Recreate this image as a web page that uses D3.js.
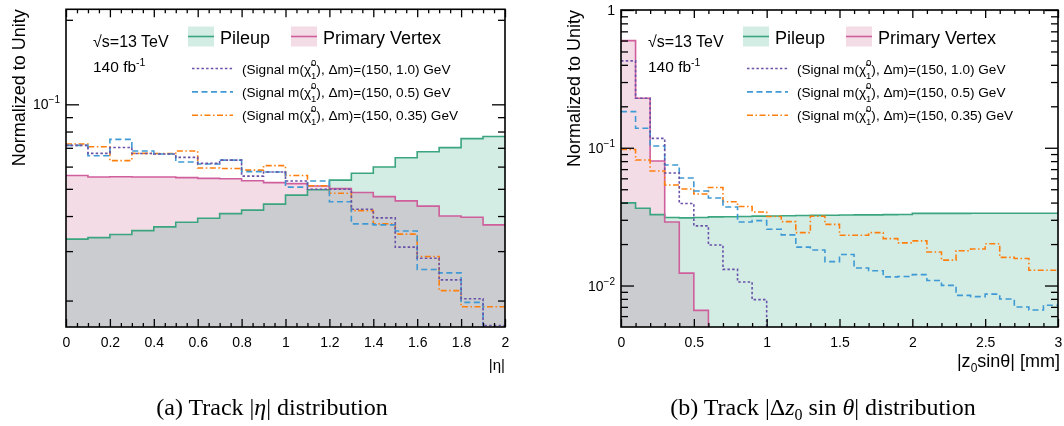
<!DOCTYPE html>
<html>
<head>
<meta charset="utf-8">
<script src="https://cdn.jsdelivr.net/npm/d3@7"></script>
<style>
  body { margin: 0; background: #fff; }
  svg text { font-family: "Liberation Sans", Arial, Helvetica, sans-serif; fill: #000; }
  .serif { font-family: "Liberation Serif", "Times New Roman", serif !important; }
  .mult { mix-blend-mode: multiply; }
</style>
</head>
<body>
<svg id="chart" width="1064" height="426"></svg>
<script>
// ---- Panel (a): track |eta| (bin edges, 0.1 wide) ----
const etaEdges = [0, 0.1, 0.2, 0.3, 0.4, 0.5, 0.6, 0.7, 0.8, 0.9, 1.0,
                  1.1, 1.2, 1.3, 1.4, 1.5, 1.6, 1.7, 1.8, 1.9, 2.0];
const etaPileup = [0.0331, 0.0335, 0.0344, 0.0355, 0.0366, 0.0380, 0.0393, 0.0408, 0.0420, 0.0441,
                   0.0475, 0.0496, 0.0537, 0.0568, 0.0598, 0.0645, 0.0678, 0.0701, 0.0755, 0.0768];
const etaPV     = [0.0558, 0.0551, 0.0552, 0.0551, 0.0551, 0.0548, 0.0545, 0.0543, 0.0534, 0.0526,
                   0.0522, 0.0512, 0.0501, 0.0485, 0.0469, 0.0453, 0.0434, 0.0400, 0.0396, 0.0372];
const etaSig10  = [0.0714, 0.0669, 0.0702, 0.0668, 0.0665, 0.0647, 0.0616, 0.0633, 0.0555, 0.0574,
                   0.0533, 0.0498, 0.0498, 0.0423, 0.0394, 0.0310, 0.0283, 0.0237, 0.0203, 0.0163];
const etaSig05  = [0.0714, 0.0656, 0.0750, 0.0682, 0.0665, 0.0623, 0.0613, 0.0633, 0.0576, 0.0574,
                   0.0507, 0.0533, 0.0450, 0.0375, 0.0372, 0.0354, 0.0258, 0.0251, 0.0197, 0.0140];
const etaSig035 = [0.0722, 0.0706, 0.0630, 0.0669, 0.0668, 0.0682, 0.0593, 0.0591, 0.0583, 0.0605,
                   0.0558, 0.0513, 0.0482, 0.0418, 0.0375, 0.0345, 0.0287, 0.0217, 0.0190, 0.0190];

// ---- Panel (b): track |z0 sin(theta)| in mm (bin edges, 0.1 wide) ----
const zEdges = [0, 0.1, 0.2, 0.3, 0.4, 0.5, 0.6, 0.7, 0.8, 0.9, 1.0,
                1.1, 1.2, 1.3, 1.4, 1.5, 1.6, 1.7, 1.8, 1.9, 2.0,
                2.1, 2.2, 2.3, 2.4, 2.5, 2.6, 2.7, 2.8, 2.9, 3.0];
const zPileup = [0.0398, 0.0364, 0.0327, 0.0312, 0.0310, 0.0312, 0.0315, 0.0316, 0.0317, 0.0319,
                 0.0320, 0.0321, 0.0322, 0.0323, 0.0324, 0.0325, 0.0326, 0.0326, 0.0327, 0.0328,
                 0.0334, 0.0334, 0.0334, 0.0334, 0.0335, 0.0335, 0.0335, 0.0335, 0.0335, 0.0335];
const zPV     = [0.599, 0.229, 0.0802, 0.0289, 0.0123, 0.0066, 0, 0, 0, 0,
                 0, 0, 0, 0, 0, 0, 0, 0, 0, 0,
                 0, 0, 0, 0, 0, 0, 0, 0, 0, 0];
const zSig10  = [0.427, 0.229, 0.117, 0.0656, 0.0394, 0.0271, 0.0197, 0.0131, 0.0106, 0.0079,
                 0, 0, 0, 0, 0, 0, 0, 0, 0, 0,
                 0, 0, 0, 0, 0, 0, 0, 0, 0, 0];
const zSig05  = [0.1828, 0.1385, 0.1031, 0.0750, 0.0604, 0.0486, 0.0432, 0.0372, 0.0289, 0.0296,
                 0.0256, 0.0233, 0.0190, 0.0181, 0.0149, 0.0168, 0.0134, 0.0128, 0.01155, 0.01164,
                 0.0120, 0.01089, 0.01002, 0.00848, 0.00831, 0.00866, 0.00799, 0.00699, 0.00665, 0.00719];
const zSig035 = [0.0972, 0.0816, 0.0679, 0.0537, 0.0502, 0.0462, 0.0515, 0.0406, 0.0375, 0.0342,
                 0.0317, 0.0291, 0.0242, 0.0318, 0.0278, 0.0232, 0.0232, 0.0242, 0.0219, 0.0204,
                 0.0211, 0.0175, 0.0153, 0.0179, 0.0184, 0.0201, 0.0160, 0.0157, 0.0129, 0.0129];

// ---- Axis ticks ----
const etaMajorTicks = [0, 0.2, 0.4, 0.6, 0.8, 1.0, 1.2, 1.4, 1.6, 1.8, 2.0];
const etaMinorTicks = [0.05, 0.1, 0.15, 0.25, 0.3, 0.35, 0.45, 0.5, 0.55, 0.65, 0.7, 0.75,
                       0.85, 0.9, 0.95, 1.05, 1.1, 1.15, 1.25, 1.3, 1.35, 1.45, 1.5, 1.55,
                       1.65, 1.7, 1.75, 1.85, 1.9, 1.95];
const zMajorTicks = [0, 0.5, 1.0, 1.5, 2.0, 2.5, 3.0];
const zMinorTicks = [0.1, 0.2, 0.3, 0.4, 0.6, 0.7, 0.8, 0.9, 1.1, 1.2, 1.3, 1.4,
                     1.6, 1.7, 1.8, 1.9, 2.1, 2.2, 2.3, 2.4, 2.6, 2.7, 2.8, 2.9];
const etaYMajor = [0.1];
const etaYMinor = [0.02, 0.03, 0.04, 0.05, 0.06, 0.07, 0.08, 0.09, 0.2];
const zYMajor = [1, 0.1, 0.01];
const zYMinor = [0.006, 0.007, 0.008, 0.009, 0.02, 0.03, 0.04, 0.05, 0.06, 0.07, 0.08, 0.09,
                 0.2, 0.3, 0.4, 0.5, 0.6, 0.7, 0.8, 0.9];

// ---- Legend entries ----
const signalLabels = ["1.0", "0.5", "0.35"];

const colors = {
  pileupLine: "#3aa57e",
  pileupFill: "#d3ede5",
  pvLine: "#cf5f9c",
  pvFill: "#f4dce7",
  sig10: "#6a52a8",
  sig05: "#3f99d4",
  sig035: "#ff7f0e"
};
const dashes = { sig10: "2.5,2.2", sig05: "6,3.5", sig035: "6,2.5,1.5,2.5" };

const svg = d3.select("#chart");
svg.append("rect").attr("width", 1064).attr("height", 426).attr("fill", "#fff");

function supLabel(sel, base, exp, expSize, rise) {
  sel.text(null);
  sel.append("tspan").text(base);
  if (exp) sel.append("tspan").attr("dy", -rise).attr("font-size", expSize).text(exp);
}

function drawPanel(cfg) {
  const x = d3.scaleLinear().domain(cfg.xDomain).range([cfg.x0, cfg.x1]);
  const y = d3.scaleLog().domain(cfg.yDomain).range([cfg.y1, cfg.y0]);
  const floor = cfg.yDomain[0] * 0.5;
  const yv = v => y(Math.max(v, floor));

  const clipId = "clip-" + cfg.id;
  svg.append("clipPath").attr("id", clipId)
    .append("rect").attr("x", cfg.x0).attr("y", cfg.y0)
    .attr("width", cfg.x1 - cfg.x0).attr("height", cfg.y1 - cfg.y0);

  const plot = svg.append("g").attr("clip-path", `url(#${clipId})`);

  const steps = vals => vals.map((v, i) => [cfg.edges[i], v]).concat([[cfg.edges[vals.length], vals[vals.length - 1]]]);
  const area = d3.area().x(d => x(d[0])).y0(cfg.y1 + 2).y1(d => yv(d[1])).curve(d3.curveStepAfter);
  const line = d3.line().x(d => x(d[0])).y(d => yv(d[1])).curve(d3.curveStepAfter);

  // Filled backgrounds; where they overlap the colours multiply into grey
  plot.append("path").attr("class", "mult").attr("d", area(steps(cfg.pileup))).attr("fill", colors.pileupFill);
  plot.append("path").attr("class", "mult").attr("d", area(steps(cfg.pv))).attr("fill", colors.pvFill);
  plot.append("path").attr("d", line(steps(cfg.pileup))).attr("fill", "none")
    .attr("stroke", colors.pileupLine).attr("stroke-width", 1.6);
  plot.append("path").attr("d", line(steps(cfg.pv))).attr("fill", "none")
    .attr("stroke", colors.pvLine).attr("stroke-width", 1.6);

  [["sig035", cfg.s035], ["sig05", cfg.s05], ["sig10", cfg.s10]].forEach(([k, vals]) => {
    plot.append("path").attr("d", line(steps(vals))).attr("fill", "none")
      .attr("stroke", colors[k]).attr("stroke-width", 1.6)
      .attr("stroke-dasharray", dashes[k]);
  });

  // Axes: ticks pointing inward on all four sides
  const styleAxis = g => {
    g.select(".domain").remove();
    g.selectAll(".tick line").attr("stroke", "#000").attr("stroke-width", 1.3);
  };
  const fmt = d => String(+d.toFixed(2));

  svg.append("g").attr("transform", `translate(0,${cfg.y1})`)
    .call(d3.axisBottom(x).tickValues(cfg.xMajor).tickSize(-8).tickPadding(10).tickFormat(fmt))
    .call(styleAxis)
    .call(g => g.selectAll(".tick text").attr("font-size", 14).attr("font-family", "Liberation Sans, Arial, sans-serif"));
  svg.append("g").attr("transform", `translate(0,${cfg.y1})`)
    .call(d3.axisBottom(x).tickValues(cfg.xMinor).tickSize(-4).tickFormat(""))
    .call(styleAxis);
  svg.append("g").attr("transform", `translate(0,${cfg.y0})`)
    .call(d3.axisTop(x).tickValues(cfg.xMajor).tickSize(-8).tickFormat(""))
    .call(styleAxis);
  svg.append("g").attr("transform", `translate(0,${cfg.y0})`)
    .call(d3.axisTop(x).tickValues(cfg.xMinor).tickSize(-4).tickFormat(""))
    .call(styleAxis);

  const yl = svg.append("g").attr("transform", `translate(${cfg.x0},0)`)
    .call(d3.axisLeft(y).tickValues(cfg.yMajor).tickSize(-13).tickPadding(6).tickFormat(d => d))
    .call(styleAxis);
  yl.selectAll(".tick text")
    .attr("font-size", 14).attr("font-family", "Liberation Sans, Arial, sans-serif")
    .each(function (d) {
      const e = Math.round(Math.log10(d));
      const t = d3.select(this);
      if (e === 0) supLabel(t, "1");
      else supLabel(t, "10", "\u2212" + (-e), 10, 6);
    });
  svg.append("g").attr("transform", `translate(${cfg.x0},0)`)
    .call(d3.axisLeft(y).tickValues(cfg.yMinor).tickSize(-7).tickFormat(""))
    .call(styleAxis);
  svg.append("g").attr("transform", `translate(${cfg.x1},0)`)
    .call(d3.axisRight(y).tickValues(cfg.yMajor).tickSize(-13).tickFormat(""))
    .call(styleAxis);
  svg.append("g").attr("transform", `translate(${cfg.x1},0)`)
    .call(d3.axisRight(y).tickValues(cfg.yMinor).tickSize(-7).tickFormat(""))
    .call(styleAxis);

  // Frame
  svg.append("rect").attr("x", cfg.x0).attr("y", cfg.y0)
    .attr("width", cfg.x1 - cfg.x0).attr("height", cfg.y1 - cfg.y0)
    .attr("fill", "none").attr("stroke", "#000").attr("stroke-width", 1.6);

  // Y title
  svg.append("text")
    .attr("transform", `translate(${cfg.x0 - 41},${cfg.y0}) rotate(-90)`)
    .attr("text-anchor", "end").attr("font-size", 18)
    .text("Normalized to Unity");

  // Labels inside the frame
  const L = cfg.x0;
  svg.append("text").attr("x", L + 27).attr("y", 47).attr("font-size", 16).text("\u221As=13 TeV");
  const lumi = svg.append("text").attr("x", L + 27).attr("y", 72).attr("font-size", 15.5);
  lumi.append("tspan").text("140 fb");
  lumi.append("tspan").attr("dy", -6).attr("font-size", 10.5).text("-1");

  // Background legend entries
  [[L + 122, "Pileup", colors.pileupFill, colors.pileupLine],
   [L + 225, "Primary Vertex", colors.pvFill, colors.pvLine]].forEach(([bx, label, fill, stroke]) => {
    svg.append("rect").attr("x", bx).attr("y", 26.5).attr("width", 26).attr("height", 20).attr("fill", fill);
    svg.append("line").attr("x1", bx).attr("x2", bx + 26).attr("y1", 36.5).attr("y2", 36.5)
      .attr("stroke", stroke).attr("stroke-width", 1.6);
    svg.append("text").attr("x", bx + 32).attr("y", 43.5).attr("font-size", 18).text(label);
  });

  // Signal legend entries
  ["sig10", "sig05", "sig035"].forEach((k, i) => {
    const ly = 68.5 + i * 23.4;
    svg.append("line").attr("x1", L + 126).attr("x2", L + 167).attr("y1", ly).attr("y2", ly)
      .attr("stroke", colors[k]).attr("stroke-width", 1.6).attr("stroke-dasharray", dashes[k]);
    const t = svg.append("text").attr("x", L + 176).attr("y", ly + 5).attr("font-size", 13.6);
    t.append("tspan").text("(Signal m(\u03C7\u0303");
    t.append("tspan").attr("font-size", 9.5).attr("dy", -8).text("0");
    t.append("tspan").attr("font-size", 9.5).attr("dx", -5.3).attr("dy", 13).text("1");
    t.append("tspan").attr("dy", -5).text(`), \u0394m)=(150, ${signalLabels[i]}) GeV`);
  });
}

drawPanel({
  id: "eta", x0: 66, x1: 505, y0: 9.3, y1: 327,
  xDomain: [0, 2], yDomain: [0.0161, 0.218],
  edges: etaEdges, pileup: etaPileup, pv: etaPV,
  s10: etaSig10, s05: etaSig05, s035: etaSig035,
  xMajor: etaMajorTicks, xMinor: etaMinorTicks, yMajor: etaYMajor, yMinor: etaYMinor
});
drawPanel({
  id: "z0", x0: 621, x1: 1058, y0: 10, y1: 327,
  xDomain: [0, 3], yDomain: [0.005, 1],
  edges: zEdges, pileup: zPileup, pv: zPV,
  s10: zSig10, s05: zSig05, s035: zSig035,
  xMajor: zMajorTicks, xMinor: zMinorTicks, yMajor: zYMajor, yMinor: zYMinor
});

// X titles
svg.append("text").attr("x", 505).attr("y", 370).attr("text-anchor", "end").attr("font-size", 15).text("|\u03B7|");
const zt = svg.append("text").attr("x", 1060).attr("y", 367).attr("text-anchor", "end").attr("font-size", 18);
zt.append("tspan").text("|z");
zt.append("tspan").attr("font-size", 12).attr("dy", 5).text("0");
zt.append("tspan").attr("dy", -5).text("sin\u03B8| [mm]");

// Sub-figure captions
const capA = svg.append("text").attr("class", "serif").attr("x", 272).attr("y", 415)
  .attr("text-anchor", "middle").attr("font-size", 24);
capA.append("tspan").text("(a) Track |");
capA.append("tspan").attr("font-style", "italic").text("\u03B7");
capA.append("tspan").text("| distribution");

const capB = svg.append("text").attr("class", "serif").attr("x", 823).attr("y", 415)
  .attr("text-anchor", "middle").attr("font-size", 24);
capB.append("tspan").text("(b) Track |\u0394");
capB.append("tspan").attr("font-style", "italic").text("z");
capB.append("tspan").attr("font-size", 16).attr("dy", 5).text("0");
capB.append("tspan").attr("dy", -5).text(" sin ");
capB.append("tspan").attr("font-style", "italic").text("\u03B8");
capB.append("tspan").text("| distribution");
</script>
</body>
</html>
